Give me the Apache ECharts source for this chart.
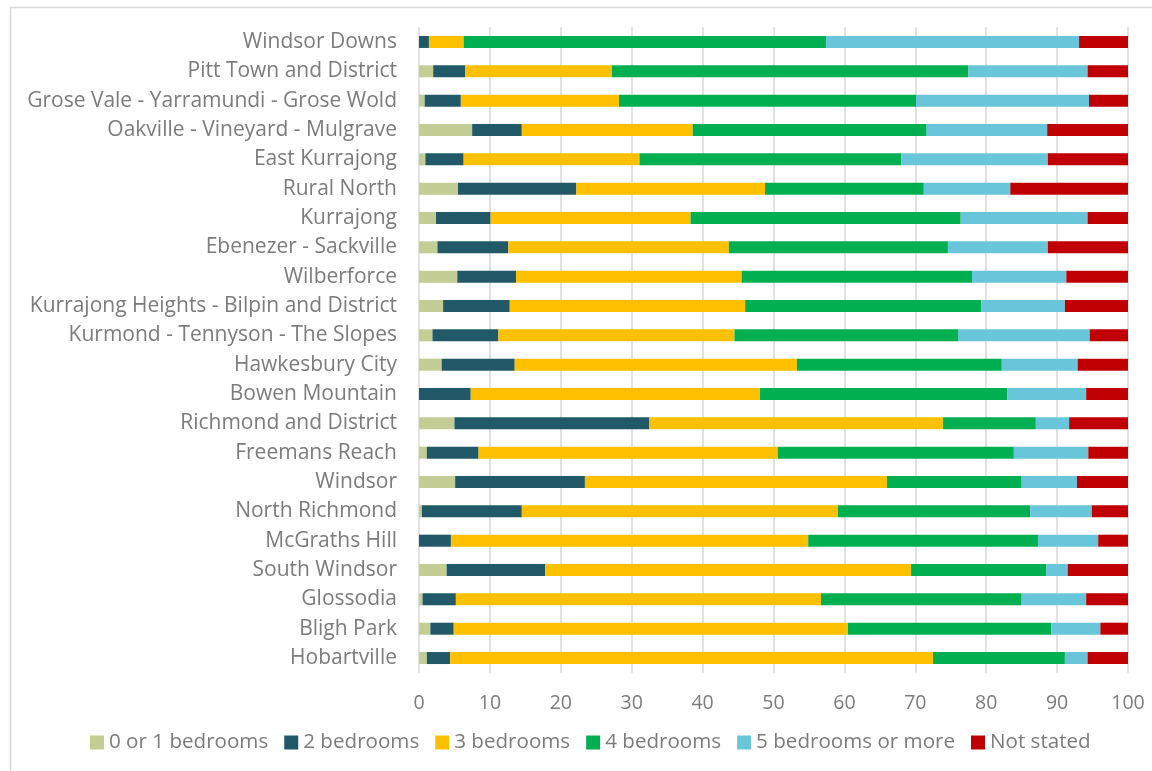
<!DOCTYPE html>
<html>
<head>
<meta charset="utf-8">
<style>
  html, body { margin: 0; padding: 0; background: #ffffff; }
  #chart { width: 1152px; height: 771px; }
</style>
<script src="https://cdn.jsdelivr.net/npm/echarts@6/dist/echarts.min.js"></script>
</head>
<body>
<div id="chart"></div>
<script>
// Dwelling size by locality, percentage of occupied private dwellings
const categories = [
  'Windsor Downs', 'Pitt Town and District', 'Grose Vale - Yarramundi - Grose Wold',
  'Oakville - Vineyard - Mulgrave', 'East Kurrajong', 'Rural North', 'Kurrajong',
  'Ebenezer - Sackville', 'Wilberforce', 'Kurrajong Heights - Bilpin and District',
  'Kurmond - Tennyson - The Slopes', 'Hawkesbury City', 'Bowen Mountain',
  'Richmond and District', 'Freemans Reach', 'Windsor', 'North Richmond',
  'McGraths Hill', 'South Windsor', 'Glossodia', 'Bligh Park', 'Hobartville'
];
const bed01 = [0, 2.0, 0.8, 7.5, 0.9, 5.5, 2.4, 2.6, 5.4, 3.4, 1.9, 3.2, 0, 5.0, 1.1, 5.1, 0.4, 0, 3.9, 0.5, 1.6, 1.1];
const bed2 = [1.4, 4.5, 5.1, 7.0, 5.4, 16.7, 7.7, 10.0, 8.3, 9.4, 9.3, 10.3, 7.3, 27.5, 7.3, 18.3, 14.1, 4.5, 13.9, 4.7, 3.3, 3.3];
const bed3 = [4.9, 20.7, 22.3, 24.1, 24.8, 26.6, 28.2, 31.1, 31.8, 33.2, 33.3, 39.8, 40.8, 41.4, 42.2, 42.6, 44.6, 50.4, 51.6, 51.5, 55.6, 68.1];
const bed4 = [51.1, 50.3, 41.9, 33.0, 36.9, 22.4, 38.1, 30.9, 32.5, 33.3, 31.6, 28.9, 34.9, 13.1, 33.3, 19.0, 27.1, 32.4, 19.1, 28.3, 28.7, 18.6];
const bed5 = [35.7, 16.8, 24.4, 17.0, 20.7, 12.2, 17.9, 14.1, 13.3, 11.8, 18.5, 10.7, 11.1, 4.7, 10.5, 7.8, 8.7, 8.5, 3.0, 9.1, 6.9, 3.2];
const notStated = [6.9, 5.7, 5.5, 11.4, 11.3, 16.6, 5.7, 11.3, 8.7, 8.9, 5.4, 7.1, 5.9, 8.3, 5.6, 7.2, 5.1, 4.2, 8.5, 5.9, 3.9, 5.7];
const xTicks = [0, 10, 20, 30, 40, 50, 60, 70, 80, 90, 100];

const seriesDefs = [
  { name: '0 or 1 bedrooms', data: bed01, color: '#c4cd94' },
  { name: '2 bedrooms', data: bed2, color: '#215968' },
  { name: '3 bedrooms', data: bed3, color: '#ffc000' },
  { name: '4 bedrooms', data: bed4, color: '#00b050' },
  { name: '5 bedrooms or more', data: bed5, color: '#69c5da' },
  { name: 'Not stated', data: notStated, color: '#c00000' }
];

const FONT = 'Open Sans';
const TEXT = '#7c7c7c';

const chart = echarts.init(document.getElementById('chart'), null, { renderer: 'canvas' });
chart.setOption({
  animation: false,
  backgroundColor: '#ffffff',
  graphic: [{
    type: 'rect',
    shape: { x: 10.5, y: 7.5, width: 1300, height: 900 },
    style: { fill: 'none', stroke: '#d9d9d9', lineWidth: 1.5 },
    silent: true
  }],
  legend: {
    left: 85,
    top: 727,
    icon: 'rect',
    itemWidth: 14,
    itemHeight: 14,
    itemGap: 16,
    textStyle: { fontFamily: FONT, fontSize: 20.6, color: TEXT },
    data: seriesDefs.map(s => s.name)
  },
  grid: { left: 419, right: 24, top: 27.3, bottom: 98.3, containLabel: false },
  xAxis: {
    type: 'value',
    min: xTicks[0],
    max: xTicks[xTicks.length - 1],
    interval: 10,
    axisLine: { show: false },
    axisTick: { show: false },
    axisLabel: { fontFamily: FONT, fontSize: 19.5, color: TEXT, margin: 21 },
    splitLine: { show: true, lineStyle: { color: '#d9d9d9', width: 1.5 } }
  },
  yAxis: {
    type: 'category',
    inverse: true,
    data: categories,
    axisLine: { show: false },
    axisTick: { show: false },
    axisLabel: { fontFamily: FONT, fontSize: 21, color: TEXT, margin: 22 }
  },
  series: seriesDefs.map(s => ({
    name: s.name,
    type: 'bar',
    stack: 'total',
    barWidth: 12,
    data: s.data,
    itemStyle: { color: s.color },
    emphasis: { disabled: true }
  }))
});
</script>
</body>
</html>
